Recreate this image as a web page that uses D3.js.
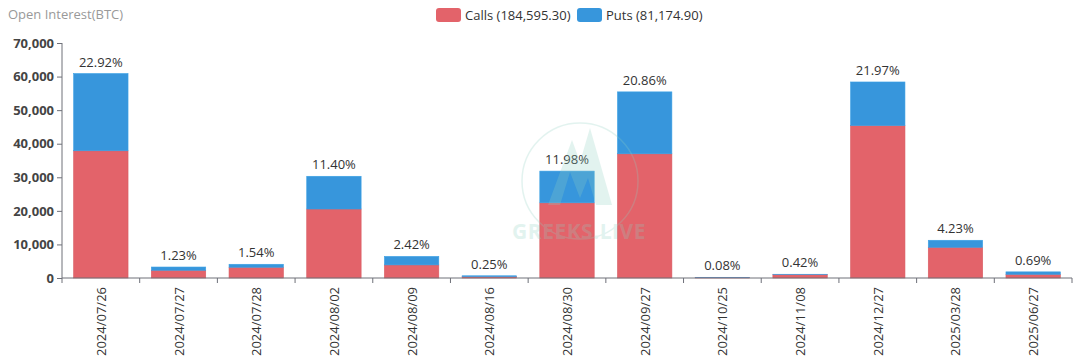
<!DOCTYPE html>
<html><head><meta charset="utf-8">
<script src="https://cdn.jsdelivr.net/npm/d3@7"></script>
<style>body{margin:0;background:#fff}svg{display:block}text{font-family:"Open Sans","Noto Sans",sans-serif}</style>
</head><body><svg id="c" width="1077" height="363"></svg>
<script>
const categories = ["2024/07/26","2024/07/27","2024/07/28","2024/08/02","2024/08/09","2024/08/16","2024/08/30","2024/09/27","2024/10/25","2024/11/08","2024/12/27","2025/03/28","2025/06/27"];
const calls = [37900, 2300, 3200, 20550, 3900, 400, 22400, 37000, 110, 1000, 45400, 9150, 1100];
const puts  = [23000, 970, 890, 9750, 2530, 260, 9440, 18440, 100, 116, 12990, 2090, 730];
const pctLabels = ["22.92%","1.23%","1.54%","11.40%","2.42%","0.25%","11.98%","20.86%","0.08%","0.42%","21.97%","4.23%","0.69%"];
const yTicks = [0,10000,20000,30000,40000,50000,60000,70000];
const legendLabels = ["Calls (184,595.30)","Puts (81,174.90)"];
const colors = ["#e3636a","#3796dc"];

const svg = d3.select("#c");
const m = {l:62, r:1072, t:43, b:278};
const x = d3.scaleBand().domain(categories).range([m.l, m.r]).paddingInner(0.3).paddingOuter(0.15);
const y = d3.scaleLinear().domain([0,70000]).range([m.b, m.t]);

// title
svg.append("text").attr("x",8).attr("y",19).attr("font-size",13).attr("fill","#999").text("Open Interest(BTC)");

// legend
const lg = [{x:436,tx:465},{x:577,tx:606}];
lg.forEach((p,i)=>{
  svg.append("rect").attr("x",p.x).attr("y",8).attr("width",25).attr("height",14).attr("rx",3).attr("fill",colors[i]);
  svg.append("text").attr("x",p.tx).attr("y",20).attr("font-size",13).attr("fill","#333").text(legendLabels[i]);
});

// y axis
const ya = svg.append("g").attr("transform",`translate(${m.l},0)`)
  .call(d3.axisLeft(y).tickValues(yTicks).tickSize(5).tickPadding(3).tickFormat(d3.format(",")));
ya.select(".domain").attr("stroke","#6e7079").attr("d",`M0,${m.b}V${m.t}`);
ya.selectAll(".tick line").attr("stroke","#6e7079");
ya.selectAll(".tick text").attr("font-size",13).attr("font-weight","bold").attr("fill","#444").attr("font-family","'Open Sans',sans-serif");

// bars
const stack = categories.map((c,i)=>({c, calls:calls[i], puts:puts[i], pct:pctLabels[i]}));
const g = svg.append("g");
g.selectAll("rect.calls").data(stack).join("rect")
  .attr("x",d=>x(d.c)).attr("width",x.bandwidth())
  .attr("y",d=>y(d.calls)).attr("height",d=>y(0)-y(d.calls))
  .attr("fill",colors[0]).attr("stroke","#d85a61").attr("stroke-width",0.6);
g.selectAll("rect.puts").data(stack).join("rect")
  .attr("x",d=>x(d.c)).attr("width",x.bandwidth())
  .attr("y",d=>y(d.calls+d.puts)).attr("height",d=>y(d.calls)-y(d.calls+d.puts))
  .attr("fill",colors[1]).attr("stroke","#3aa0e4").attr("stroke-width",0.6);
g.selectAll("text.pct").data(stack).join("text")
  .attr("x",d=>x(d.c)+x.bandwidth()/2).attr("y",d=>y(d.calls+d.puts)-7)
  .attr("text-anchor","middle").attr("font-size",13).attr("fill","#333").text(d=>d.pct);

// x axis
const xa = svg.append("g").attr("transform",`translate(0,${m.b})`);
xa.append("line").attr("x1",m.l).attr("x2",m.r).attr("stroke","#6e7079");
const bounds = d3.range(categories.length+1).map(i=>m.l + i*(m.r-m.l)/categories.length);
xa.selectAll("line.t").data(bounds).join("line").attr("x1",d=>d).attr("x2",d=>d).attr("y1",0).attr("y2",5).attr("stroke","#6e7079");
xa.selectAll("text.l").data(categories).join("text")
  .attr("transform",d=>`translate(${x(d)+x.bandwidth()/2+5},9) rotate(-90)`)
  .attr("text-anchor","end").attr("font-size",13).attr("fill","#333").text(d=>d);

// watermark (on top, translucent)
const wm = svg.append("g").attr("opacity",0.25);
wm.append("circle").attr("cx",580).attr("cy",181).attr("r",58).attr("fill","none").attr("stroke","#8fd0c2").attr("stroke-width",1.5);
wm.append("path").attr("d","M548,205 L572,140 L580,162 L590,128 L612,205 L596,205 L588,178 L580,198 L570,172 L560,205 Z").attr("fill","#8fd0c2");
wm.append("text").attr("x",579).attr("y",239).attr("text-anchor","middle").attr("font-size",21).attr("font-weight","bold").attr("fill","#8fd0c2").attr("letter-spacing",0.5).text("GREEKS.LIVE");
</script></body></html>
